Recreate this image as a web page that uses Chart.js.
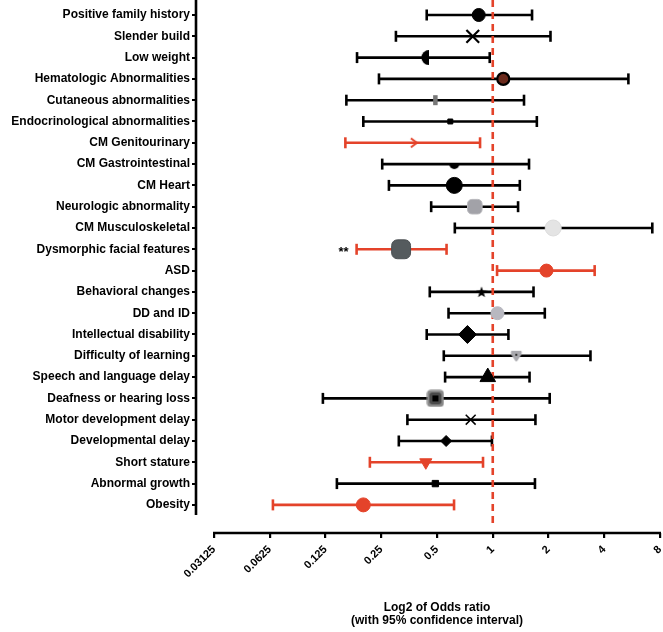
<!DOCTYPE html>
<html><head><meta charset="utf-8">
<script src="https://cdn.jsdelivr.net/npm/chart.js@4.4.1/dist/chart.umd.min.js"></script>
<style>html,body{margin:0;padding:0;background:#fff;overflow:hidden}#wrap{width:663px;height:632px;position:relative}</style>
</head><body><div id="wrap"><canvas id="c" width="663" height="632"></canvas></div>
<script>
// ---------- DATA ----------
const categories = [
  'Positive family history','Slender build','Low weight','Hematologic Abnormalities',
  'Cutaneous abnormalities','Endocrinological abnormalities','CM Genitourinary','CM Gastrointestinal',
  'CM Heart','Neurologic abnormality','CM Musculoskeletal','Dysmorphic facial features',
  'ASD','Behavioral changes','DD and ID','Intellectual disability',
  'Difficulty of learning','Speech and language delay','Deafness or hearing loss','Motor development delay',
  'Developmental delay','Short stature','Abnormal growth','Obesity'
];
const oddsRatio = [0.84,0.78,0.43,1.14, 0.49,0.59,0.375,0.62, 0.62,0.80,2.12,0.32, 1.95,0.87,1.06,0.73, 1.34,0.94,0.49,0.76, 0.56,0.435,0.49,0.20];
const ciLower   = [0.44,0.30,0.185,0.243, 0.162,0.20,0.16,0.253, 0.275,0.465,0.624,0.184, 1.055,0.457,0.577,0.44, 0.544,0.553,0.121,0.346, 0.311,0.217,0.144,0.065];
const ciUpper   = [1.63,2.05,0.963,5.40, 1.475,1.73,0.854,1.57, 1.40,1.37,7.27,0.563, 3.55,1.66,1.91,1.215, 3.37,1.58,2.03,1.70, 0.99,0.886,1.69,0.618];
const significant = [false,false,false,false, false,false,true,false, false,false,false,true, true,false,false,false, false,false,false,false, false,true,false,true];
const rowAnnotations = [{row: 11, text: '**'}];
const xTickValues = [0.03125,0.0625,0.125,0.25,0.5,1,2,4,8];
const xTickLabels = ['0.03125','0.0625','0.125','0.25','0.5','1','2','4','8'];
const referenceOR = 1;
const xAxisTitle = ['Log2 of Odds ratio','(with 95% confidence interval)'];

// ---------- STYLE ----------
const RED = '#e4432a';
const FONT = '"Liberation Sans", Arial, Helvetica, sans-serif';

function mk(w, h, draw){ const c=document.createElement('canvas'); c.width=w; c.height=h; const g=c.getContext('2d'); draw(g,w,h); return c; }
const halfLeft = mk(8,15,(g,w,h)=>{g.fillStyle='#000';g.beginPath();g.moveTo(8,0);g.arc(8,7.5,7.5,-Math.PI/2,Math.PI/2,true);g.closePath();g.fill();});
const halfBottom = mk(12,12,(g,w,h)=>{g.fillStyle='#000';g.beginPath();g.moveTo(1,6);g.arc(6,6,5,Math.PI,0,true);g.closePath();g.fill();});
const chevron = mk(12,12,(g,w,h)=>{g.strokeStyle=RED;g.lineWidth=2;g.beginPath();g.moveTo(3,1.5);g.lineTo(9,6);g.lineTo(3,10.5);g.stroke();});
const star = mk(12,12,(g,w,h)=>{g.fillStyle='#000';g.beginPath();for(let i=0;i<10;i++){const r=i%2?2.4:6;const a=-Math.PI/2+i*Math.PI/5;g.lineTo(6+r*Math.cos(a),6.5+r*Math.sin(a));}g.closePath();g.fill();});
const shield = mk(14,14,(g,w,h)=>{g.fillStyle='#a9a9ae';g.beginPath();g.moveTo(2,2);g.lineTo(12,2);g.quadraticCurveTo(13,3,12,6);g.lineTo(8,12);g.quadraticCurveTo(7,13,6,12);g.lineTo(2,6);g.quadraticCurveTo(1,3,2,2);g.fill();g.fillStyle='#333';g.fillRect(6,5,2,2);});
const deaf = mk(18,18,(g,w,h)=>{g.fillStyle='#8a8a8a';g.beginPath();g.roundRect(0.5,0.5,17,17,4);g.fill();g.fillStyle='#4a4a4a';g.beginPath();g.roundRect(3,3,12,12,3);g.fill();g.fillStyle='#000';g.fillRect(6,6,6,6);});

const markerStyle = [
  {s:'circle',r:6.5,f:'#000',b:'#000',w:1},
  {s:'crossRot',r:9,f:'#000',b:'#000',w:2.2},
  {s:halfLeft,r:7,f:'#000',b:'#000',w:1},
  {s:'circle',r:6,f:'#6b2a1c',b:'#000',w:2.2},
  {s:'line',r:5,f:'#777',b:'#777',w:4.5,rot:90},
  {s:'rect',r:3.5,f:'#000',b:'#000',w:1},
  {s:chevron,r:6,f:RED,b:RED,w:1},
  {s:halfBottom,r:6,f:'#000',b:'#000',w:1},
  {s:'circle',r:8,f:'#000',b:'#000',w:1},
  {s:'rectRounded',r:8.5,f:'#a2a2a8',b:'#b8b8bc',w:1},
  {s:'circle',r:8,f:'#e4e4e4',b:'#dcdcdc',w:1},
  {s:'rectRounded',r:11,f:'#555b5e',b:'#4a4f52',w:1},
  {s:'circle',r:6.5,f:RED,b:RED,w:1},
  {s:star,r:6,f:'#000',b:'#000',w:1},
  {s:'circle',r:6.5,f:'#b8b8c0',b:'#b8b8c0',w:1},
  {s:'rectRot',r:9,f:'#000',b:'#000',w:1},
  {s:shield,r:7,f:'#aaa',b:'#aaa',w:1},
  {s:'triangle',r:9,f:'#000',b:'#000',w:1},
  {s:deaf,r:9,f:'#666',b:'#666',w:1},
  {s:'crossRot',r:7,f:'#000',b:'#000',w:1.5},
  {s:'rectRot',r:5.5,f:'#000',b:'#000',w:1},
  {s:'triangle',r:7,f:RED,b:RED,w:1,rot:180},
  {s:'rect',r:4.5,f:'#000',b:'#000',w:1},
  {s:'circle',r:7,f:RED,b:RED,w:1}
];

// ---------- DATASETS ----------
const datasets = [];
datasets.push({
  type:'scatter', order:0, clip:false,
  data: oddsRatio.map((v,i)=>({x:v,y:i})),
  pointStyle: markerStyle.map(m=>m.s),
  pointRadius: markerStyle.map(m=>m.r),
  pointBackgroundColor: markerStyle.map(m=>m.f),
  pointBorderColor: markerStyle.map(m=>m.b),
  pointBorderWidth: markerStyle.map(m=>m.w),
  pointRotation: markerStyle.map(m=>m.rot||0),
  showLine:false
});
datasets.push({
  type:'line', order:1, clip:false,
  data:[{x:referenceOR,y:-0.7},{x:referenceOR,y:23.94}],
  borderColor:RED, borderWidth:2.6, borderDash:[7,5], pointRadius:0, fill:false
});
categories.forEach((c,i)=>{
  const col = significant[i] ? RED : '#000';
  datasets.push({
    type:'line', order:2, clip:false,
    data:[{x:ciLower[i],y:i},{x:ciUpper[i],y:i}],
    borderColor:col, borderWidth:2.6,
    pointStyle:'line', pointRotation:90, pointRadius:5.5,
    pointBorderWidth:2.6, pointBorderColor:col, pointBackgroundColor:col, fill:false
  });
});

function zeroPad(s){
  s.paddingLeft=0; s.paddingRight=0; s.paddingTop=0; s.paddingBottom=0;
}

const axesPlugin = {
  id:'axesPlugin',
  afterDraw(chart){
    const ctx = chart.ctx, x = chart.scales.x, y = chart.scales.y, a = chart.chartArea;
    ctx.save();
    ctx.strokeStyle='#000'; ctx.lineWidth=2.6; ctx.lineCap='butt';
    ctx.beginPath(); ctx.moveTo(a.left, 0); ctx.lineTo(a.left, y.getPixelForValue(23.47)); ctx.stroke();
    ctx.beginPath(); ctx.moveTo(x.getPixelForValue(xTickValues[0])-1, a.bottom); ctx.lineTo(x.getPixelForValue(xTickValues[xTickValues.length-1])+1, a.bottom); ctx.stroke();
    ctx.fillStyle='#000'; ctx.font='bold 13px '+FONT; ctx.textAlign='right'; ctx.textBaseline='middle';
    rowAnnotations.forEach(r=>{ ctx.fillText(r.text, x.getPixelForValue(ciLower[r.row])-8, y.getPixelForValue(r.row)+3); });
    const cx = (x.getPixelForValue(xTickValues[0]) + x.getPixelForValue(xTickValues[xTickValues.length-1]))/2;
    ctx.textAlign='center'; ctx.font='bold 12px '+FONT;
    ctx.fillText(xAxisTitle[0], cx, a.bottom+75);
    ctx.fillText(xAxisTitle[1], cx, a.bottom+88);
    ctx.restore();
  }
};

new Chart(document.getElementById('c'), {
  data:{datasets},
  options:{
    responsive:false, animation:false, events:[], devicePixelRatio:1,
    layout:{autoPadding:false, padding:{top:2,right:3,left:0,bottom:0}},
    plugins:{legend:{display:false},tooltip:{enabled:false}},
    scales:{
      x:{
        type:'logarithmic', min:Math.pow(2,-5.323), max:8,
        afterBuildTicks(s){ s.ticks = xTickValues.map(v=>({value:v})); },
        afterFit(s){ s.height = 99; zeroPad(s); },
        border:{display:false},
        grid:{drawOnChartArea:false, drawTicks:true, tickLength:5, color:'#000', lineWidth:2.2},
        ticks:{ autoSkip:false, minRotation:45, maxRotation:45, padding:5, color:'#000',
          font:{family:FONT, size:11, weight:'bold'},
          callback(v){ const i = xTickValues.indexOf(v); return i>=0 ? xTickLabels[i] : ''; } }
      },
      y:{
        type:'linear', reverse:true, min:-0.61, max:24.32,
        afterBuildTicks(s){ s.ticks = categories.map((c,i)=>({value:i})); },
        afterFit(s){ s.width = 196; zeroPad(s); },
        border:{display:false},
        grid:{drawOnChartArea:false, drawTicks:true, tickLength:4, color:'#000', lineWidth:2},
        ticks:{ autoSkip:false, padding:2, color:'#000',
          font:{family:FONT, size:12, weight:'bold'},
          callback(v){ return categories[v] ?? ''; } }
      }
    }
  },
  plugins:[axesPlugin]
});
</script></body></html>
